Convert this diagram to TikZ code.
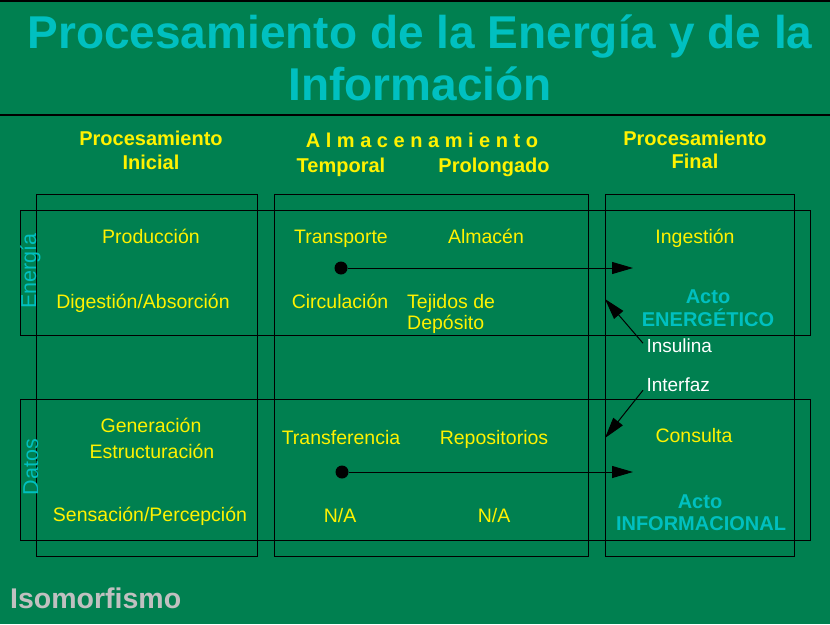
\documentclass[tikz,border=0pt]{standalone}
\usepackage{fontspec}
\setmainfont{Liberation Sans}
\usetikzlibrary{arrows.meta}

\definecolor{verde}{RGB}{0,128,80}
\definecolor{cian}{RGB}{0,192,192}
\definecolor{gris}{RGB}{192,192,192}

\tikzstyle{marco}=[
    draw=black,
    line width=1pt,
  ]
\tikzstyle{titulo}=[
    anchor=base,
    text=cian,
    font=\fontsize{46}{52}\selectfont\bfseries,
  ]
\tikzstyle{cabeza}=[
    anchor=base,
    text=yellow,
    font=\fontsize{20}{24}\selectfont\bfseries,
  ]
\tikzstyle{texto}=[
    anchor=base,
    text=yellow,
    font=\fontsize{19.5}{23}\selectfont,
  ]
\tikzstyle{acto}=[
    anchor=base,
    text=cian,
    font=\fontsize{20}{24}\selectfont\bfseries,
  ]
\tikzstyle{lado}=[
    anchor=base,
    rotate=90,
    text=cian,
    font=\fontsize{21.5}{24}\selectfont,
  ]
\tikzstyle{nota}=[
    anchor=base west,
    text=white,
    font=\fontsize{19}{23}\selectfont,
  ]
\tikzstyle{punto}=[
    circle,
    fill=black,
    inner sep=0pt,
    minimum size=13pt,
  ]
\tikzstyle{flecha}=[
    -{Triangle[length=21pt,width=12pt]},
    line width=1pt,
  ]

\begin{document}
\begin{tikzpicture}[x=1pt,y=-1pt]
      \useasboundingbox (0,0) rectangle (830,624);
      \fill[verde] (0,0) rectangle (830,624);
      \draw[line width=2pt] (0,1) -- (830,1);
      \draw[line width=2pt] (0,115) -- (830,115);

      % titulo
      \node[titulo] (tit1) at (420,48) {Procesamiento de la Energía y de la};
      \node[titulo] (tit2) at (420,100) {Información};

      % columnas y bandas
      \foreach \xa/\xb in {36/257, 274/588, 605/794} {%
        \draw[marco] (\xa,194) rectangle (\xb,556);
      }
      \foreach \ya/\yb in {210/335, 399/540} {%
        \draw[marco] (20,\ya) rectangle (810,\yb);
      }

      % encabezados
      \node[cabeza] (ini1) at (151,145) {Procesamiento};
      \node[cabeza] (ini2) at (151,169) {Inicial};
      \node[cabeza] (alm) at (422,147) {A l m a c e n a m i e n t o};
      \node[cabeza] (temp) at (341,172) {Temporal};
      \node[cabeza] (prol) at (494,172) {Prolongado};
      \node[cabeza] (fin1) at (695,145) {Procesamiento};
      \node[cabeza] (fin2) at (695,168) {Final};

      \node[lado] (energia) at (36,271) {Energía};
      \node[lado] (datos) at (38,467) {Datos};

      % energia
      \node[texto] (produccion) at (151,243) {Producción};
      \node[texto] (digestion) at (143,308) {Digestión/Absorción};
      \node[texto] (transporte) at (341,243) {Transporte};
      \node[texto] (almacen) at (486,243) {Almacén};
      \node[texto] (circulacion) at (340,308) {Circulación};
      \node[texto, anchor=base west, inner sep=0pt] (tejidos) at (407,308) {Tejidos de};
      \node[texto, anchor=base west, inner sep=0pt] (deposito) at (407,329) {Depósito};
      \node[texto] (ingestion) at (695,243) {Ingestión};
      \node[acto] (acto1) at (708,303) {Acto};
      \node[acto] (energetico) at (708,326) {ENERGÉTICO};

      % datos
      \node[texto] (generacion) at (151,432) {Generación};
      \node[texto] (estructura) at (152,458) {Estructuración};
      \node[texto] (sensacion) at (150,521) {Sensación/Percepción};
      \node[texto] (transferencia) at (341,444) {Transferencia};
      \node[texto] (repositorios) at (494,444) {Repositorios};
      \node[texto] (na1) at (340,522) {N/A};
      \node[texto] (na2) at (494,522) {N/A};
      \node[texto] (consulta) at (694,442) {Consulta};
      \node[acto] (acto2) at (700,508) {Acto};
      \node[acto] (informacional) at (701,530) {INFORMACIONAL};

      \node[nota] (insulina) at (643,352) {Insulina};
      \node[nota] (interfaz) at (643,391) {Interfaz};

      \node[anchor=base west, text=gris, font=\fontsize{28.5}{32}\selectfont\bfseries, inner sep=0pt] (iso) at (10,608) {Isomorfismo};

      % flechas
      \node[punto] (enerpunto) at (341,268) {};
      \node[punto] (datopunto) at (342,472) {};
      \coordinate (enerfin) at (633,268);
      \coordinate (datofin) at (633,472);
      \coordinate (insfin) at (605,299);
      \coordinate (intfin) at (605,438);
      \draw[flecha] (enerpunto) -- (enerfin);
      \draw[flecha] (datopunto) -- (datofin);
      \draw[flecha] ([yshift=2pt]insulina.west) -- (insfin);
      \draw[flecha] ([yshift=-6pt]interfaz.west) -- (intfin);
    \end{tikzpicture}
\end{document}
